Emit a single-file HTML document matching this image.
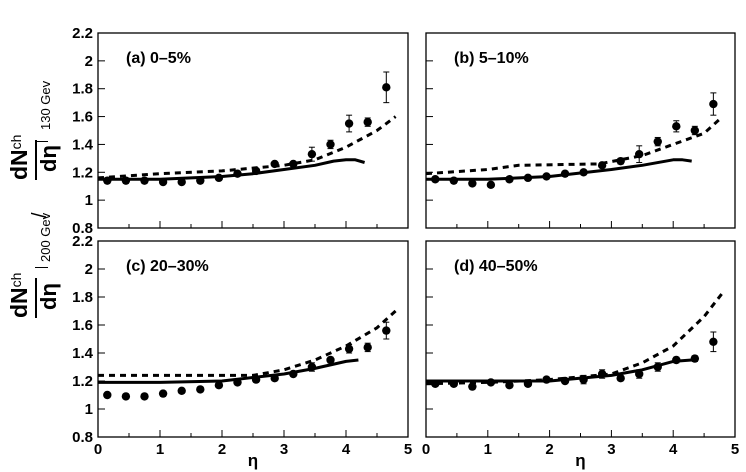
<!DOCTYPE html>
<html><head><meta charset="utf-8"><style>
body{margin:0;background:#fff;width:746px;height:472px;overflow:hidden;position:relative}
svg{position:absolute;left:0;top:0}
svg text{font-family:"Liberation Sans",Arial,sans-serif;font-weight:bold;fill:#000}
.r{position:absolute;font-family:"Liberation Sans",Arial,sans-serif;white-space:nowrap;transform:rotate(-90deg);transform-origin:0 0;line-height:1}
.b{font-weight:bold}
</style></head><body>
<svg id="s" width="746" height="472" xmlns="http://www.w3.org/2000/svg"></svg>
<!-- rotated title: element left = page x of text top, top = page y where text starts (bottom end) -->
<div class="r b" style="left:8px;top:318px;font-size:23px">dN<sup style="font-size:14px;font-weight:normal;vertical-align:6px">ch</sup></div>
<div style="position:absolute;left:35px;top:278px;width:2px;height:40px;background:#000"></div>
<div class="r b" style="left:38px;top:310px;font-size:22px">dη</div>
<div class="r b" style="left:8px;top:180px;font-size:23px">dN<sup style="font-size:14px;font-weight:normal;vertical-align:6px">ch</sup></div>
<div style="position:absolute;left:35px;top:140px;width:2px;height:40px;background:#000"></div>
<div class="r b" style="left:38px;top:172px;font-size:22px">dη</div>
<div style="position:absolute;left:35px;top:267px;width:13px;height:1px;background:#000"></div>
<div class="r" style="left:39px;top:262px;font-size:13px">200 Gev</div>
<div class="r" style="left:30px;top:218px;font-size:20px">/</div>
<div style="position:absolute;left:35px;top:141px;width:13px;height:1px;background:#000"></div>
<div class="r" style="left:39px;top:130px;font-size:13px">130 Gev</div>
<script>
const S=document.getElementById('s');let h='';
const eta=[0.15,0.45,0.75,1.05,1.35,1.65,1.95,2.25,2.55,2.85,3.15,3.45,3.75,4.05,4.35,4.65];
const P=[
{x0:98,x1:408,yt:33,yb:228,lab:'(a) 0\u20135%',yl:true,xl:false,
 pts:[1.14,1.14,1.14,1.13,1.13,1.14,1.16,1.19,1.21,1.26,1.26,1.33,1.40,1.55,1.56,1.81],
 err:[0,0,0,0,0,0,0,0,0.01,0.01,0.01,0.05,0.03,0.06,0.03,0.11],
 sol:[[0,1.15],[1,1.15],[2,1.17],[2.5,1.19],[3,1.22],[3.5,1.25],[3.8,1.28],[4,1.29],[4.15,1.29],[4.3,1.27]],
 das:[[0,1.16],[1,1.19],[2,1.21],[3,1.25],[3.5,1.29],[4,1.38],[4.5,1.50],[4.8,1.60]]},
{x0:426,x1:735,yt:33,yb:228,lab:'(b) 5\u201310%',yl:false,xl:false,
 pts:[1.15,1.14,1.12,1.11,1.15,1.16,1.17,1.19,1.20,1.25,1.28,1.33,1.42,1.53,1.50,1.69],
 err:[0,0,0,0,0,0,0,0,0,0.01,0.02,0.06,0.03,0.04,0.03,0.08],
 sol:[[0,1.15],[1,1.15],[2,1.17],[3,1.22],[3.5,1.25],[4,1.29],[4.15,1.29],[4.3,1.28]],
 das:[[0,1.19],[1,1.22],[1.5,1.25],[2.8,1.26],[3.5,1.32],[4,1.40],[4.5,1.48],[4.75,1.58]]},
{x0:98,x1:408,yt:241,yb:437,lab:'(c) 20\u201330%',yl:true,xl:true,
 pts:[1.10,1.09,1.09,1.11,1.13,1.14,1.17,1.19,1.21,1.22,1.25,1.30,1.35,1.43,1.44,1.56],
 err:[0,0,0,0,0,0,0,0,0,0.01,0.01,0.03,0.02,0.03,0.03,0.06],
 sol:[[0,1.19],[1,1.19],[2,1.20],[3,1.25],[3.5,1.29],[4,1.34],[4.2,1.35]],
 das:[[0,1.24],[1.5,1.24],[2.5,1.24],[3,1.28],[3.5,1.35],[4,1.45],[4.5,1.58],[4.8,1.70]]},
{x0:426,x1:735,yt:241,yb:437,lab:'(d) 40\u201350%',yl:false,xl:true,
 pts:[1.18,1.18,1.16,1.19,1.17,1.18,1.21,1.20,1.21,1.25,1.22,1.25,1.30,1.35,1.36,1.48],
 err:[0,0,0,0,0,0,0,0,0.03,0.03,0.01,0.03,0.03,0.02,0.02,0.07],
 sol:[[0,1.20],[2,1.20],[3,1.24],[3.5,1.28],[4,1.34],[4.3,1.35]],
 das:[[0,1.18],[1,1.19],[2,1.21],[3,1.25],[3.5,1.33],[4,1.45],[4.5,1.66],[4.8,1.83]]}];
function path(a,X,Y){let d='M'+X(a[0][0])+' '+Y(a[0][1]);for(let i=1;i<a.length;i++){d+=' L'+X(a[i][0]).toFixed(1)+' '+Y(a[i][1]).toFixed(1);}return d;}
P.forEach(p=>{
 const X=v=>p.x0+v/5*(p.x1-p.x0), Y=v=>p.yb-(v-0.8)/1.4*(p.yb-p.yt);
 h+=`<rect x="${p.x0}" y="${p.yt}" width="${p.x1-p.x0}" height="${p.yb-p.yt}" fill="none" stroke="#000" stroke-width="1.3"/>`;
 for(let i=1;i<10;i++){const x=X(i*0.5);h+=`<line x1="${x}" y1="${p.yb}" x2="${x}" y2="${p.yb-(i%2?4:7)}" stroke="#000"/>`;}
 for(let i=1;i<7;i++){const y=Y(0.8+i*0.2);h+=`<line x1="${p.x0}" y1="${y}" x2="${p.x0+7}" y2="${y}" stroke="#000"/>`;}
 if(p.yl){for(let i=0;i<=7;i++){const v=0.8+i*0.2;let t=v.toFixed(1).replace(/\.0$/,'');h+=`<text x="93" y="${Y(v)+5}" font-size="15" text-anchor="end">${t}</text>`;}}
 if(p.xl){for(let i=0;i<=5;i++)h+=`<text x="${X(i)}" y="${p.yb+17}" font-size="15" text-anchor="middle">${i}</text>`;
  h+=`<text x="${(p.x0+p.x1)/2}" y="${p.yb+29}" font-size="17" text-anchor="middle">η</text>`;}
 h+=`<text x="${p.x0+28}" y="${p.yt+30}" font-size="16">${p.lab}</text>`;
 h+=`<path d="${path(p.sol,X,Y)}" fill="none" stroke="#000" stroke-width="3" stroke-linejoin="round"/>`;
 h+=`<path d="${path(p.das,X,Y)}" fill="none" stroke="#000" stroke-width="3" stroke-dasharray="6,5"/>`;
 p.pts.forEach((v,i)=>{const x=X(eta[i]),y=Y(v),e=p.err[i];
  if(e>0){const a=Y(v+e),b=Y(v-e);h+=`<line x1="${x}" y1="${a}" x2="${x}" y2="${b}" stroke="#000"/><line x1="${x-3}" y1="${a}" x2="${x+3}" y2="${a}" stroke="#000"/><line x1="${x-3}" y1="${b}" x2="${x+3}" y2="${b}" stroke="#000"/>`;}
  h+=`<circle cx="${x}" cy="${y}" r="4.2" fill="#000"/>`;});
});
S.innerHTML=h;
</script>
</body></html>
